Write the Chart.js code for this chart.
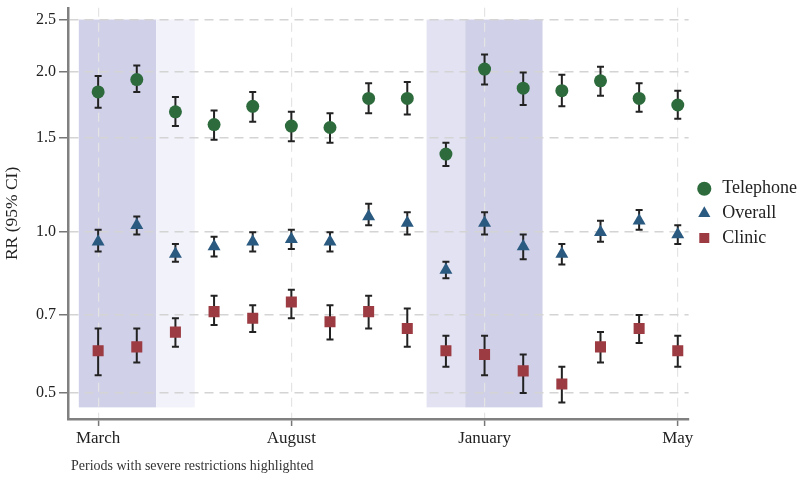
<!DOCTYPE html>
<html>
<head>
<meta charset="utf-8">
<script src="https://cdn.jsdelivr.net/npm/chart.js@4.4.1/dist/chart.umd.min.js"></script>
<style>
  html, body { margin: 0; padding: 0; background: #fff; }
  #wrap { width: 800px; height: 478px; }
</style>
</head>
<body>
<div id="wrap"><canvas id="grafico"></canvas></div>
<script>
// periods 0..15, only some are labelled on the axis
const periodos = [0, 1, 2, 3, 4, 5, 6, 7, 8, 9, 10, 11, 12, 13, 14, 15];
const tickPos = [0, 5, 10, 15];
const tickLabels = ['March', 'August', 'January', 'May'];
const yTicks = [0.5, 0.7, 1.0, 1.5, 2.0, 2.5];

const telefono = [1.83, 1.93, 1.68, 1.59, 1.72, 1.58, 1.57, 1.78, 1.78, 1.40, 2.02, 1.86, 1.84, 1.92, 1.78, 1.73];
const telefonoLo = [1.71, 1.83, 1.58, 1.49, 1.61, 1.48, 1.47, 1.67, 1.66, 1.33, 1.89, 1.73, 1.72, 1.80, 1.68, 1.63];
const telefonoHi = [1.96, 2.05, 1.79, 1.69, 1.83, 1.68, 1.67, 1.90, 1.91, 1.47, 2.15, 1.99, 1.97, 2.04, 1.90, 1.84];

const general = [0.96, 1.03, 0.91, 0.94, 0.96, 0.97, 0.96, 1.07, 1.04, 0.85, 1.04, 0.94, 0.91, 1.00, 1.05, 0.99];
const generalLo = [0.92, 0.99, 0.88, 0.90, 0.92, 0.93, 0.92, 1.03, 0.99, 0.82, 0.99, 0.89, 0.87, 0.96, 1.01, 0.95];
const generalHi = [1.01, 1.07, 0.95, 0.98, 1.00, 1.01, 1.00, 1.13, 1.09, 0.88, 1.09, 0.99, 0.95, 1.05, 1.10, 1.03];

const clinica = [0.60, 0.61, 0.65, 0.71, 0.69, 0.74, 0.68, 0.71, 0.66, 0.60, 0.59, 0.55, 0.52, 0.61, 0.66, 0.60];
const clinicaLo = [0.54, 0.57, 0.61, 0.67, 0.65, 0.69, 0.63, 0.66, 0.61, 0.56, 0.54, 0.50, 0.48, 0.57, 0.62, 0.56];
const clinicaHi = [0.66, 0.66, 0.69, 0.76, 0.73, 0.78, 0.73, 0.76, 0.72, 0.64, 0.64, 0.59, 0.56, 0.65, 0.70, 0.64];

// restriction periods (in period units) and their shade
const bandaDesde = [-0.5, 1.5, 8.5, 9.5];
const bandaHasta = [1.5, 2.5, 9.5, 11.5];
const bandaColor = ['#d0d0e8', '#f2f2fa', '#e2e2f3', '#d0d0e8'];
const bandaTop = 2.5;
const bandaBottom = 0.47;

const errores = [
  [telefonoLo, telefonoHi],
  [generalLo, generalHi],
  [clinicaLo, clinicaHi]
];

function puntos(valores) {
  return valores.map((v, i) => ({ x: periodos[i], y: v }));
}

const bandas = {
  id: 'bandas',
  beforeDraw(chart) {
    const { ctx, scales: { x, y } } = chart;
    ctx.save();
    for (let i = 0; i < bandaDesde.length; i++) {
      const x0 = x.getPixelForValue(bandaDesde[i]);
      const x1 = x.getPixelForValue(bandaHasta[i]);
      const y0 = y.getPixelForValue(bandaTop);
      const y1 = y.getPixelForValue(bandaBottom);
      ctx.fillStyle = bandaColor[i];
      ctx.fillRect(x0, y0, x1 - x0, y1 - y0);
    }
    ctx.restore();
  }
};

const barrasError = {
  id: 'barrasError',
  beforeDatasetsDraw(chart) {
    const { ctx, scales: { x, y } } = chart;
    ctx.save();
    ctx.strokeStyle = '#222222';
    ctx.lineWidth = 2;
    errores.forEach(([lo, hi]) => {
      lo.forEach((v, i) => {
        const px = x.getPixelForValue(periodos[i]);
        const yLo = y.getPixelForValue(v);
        const yHi = y.getPixelForValue(hi[i]);
        ctx.beginPath();
        ctx.moveTo(px, yLo);
        ctx.lineTo(px, yHi);
        ctx.moveTo(px - 3.5, yLo);
        ctx.lineTo(px + 3.5, yLo);
        ctx.moveTo(px - 3.5, yHi);
        ctx.lineTo(px + 3.5, yHi);
        ctx.stroke();
      });
    });
    ctx.restore();
  }
};

const nota = {
  id: 'nota',
  afterDraw(chart) {
    const ctx = chart.ctx;
    ctx.save();
    ctx.font = '14px "Liberation Serif"';
    ctx.fillStyle = '#333';
    ctx.textBaseline = 'middle';
    ctx.fillText('Periods with severe restrictions highlighted', 71, 466);
    ctx.restore();
  }
};

const familia = '"Liberation Serif", "DejaVu Serif", serif';
Chart.defaults.font.family = familia;
Chart.defaults.font.size = 16;

new Chart(document.getElementById('grafico'), {
  type: 'scatter',
  data: {
    datasets: [
      {
        label: 'Telephone',
        data: puntos(telefono),
        pointStyle: 'circle',
        pointRadius: 6.5,
        backgroundColor: '#2d6b3d',
        borderColor: '#2d6b3d',
        borderWidth: 0
      },
      {
        label: 'Overall',
        data: puntos(general),
        pointStyle: 'triangle',
        pointRadius: 7.5,
        backgroundColor: '#2b5a80',
        borderColor: '#2b5a80',
        borderWidth: 0
      },
      {
        label: 'Clinic',
        data: puntos(clinica),
        pointStyle: 'rect',
        pointRadius: 7.8,
        backgroundColor: '#9c3b42',
        borderColor: '#9c3b42',
        borderWidth: 0
      }
    ]
  },
  options: {
    responsive: true,
    maintainAspectRatio: false,
    animation: false,
    layout: { padding: { top: 3, right: -7, bottom: 0, left: 0 } },
    plugins: {
      tooltip: { enabled: false },
      legend: {
        position: 'right',
        fullSize: false,
        labels: {
          usePointStyle: true,
          boxHeight: 10,
          boxWidth: 18,
          padding: 6.7,
          color: '#222',
          font: { family: familia, size: 18 }
        }
      }
    },
    scales: {
      x: {
        type: 'linear',
        min: -0.78,
        max: 15.28,
        afterBuildTicks(s) {
          s.ticks = tickPos.map(v => ({ value: v }));
        },
        afterFit(s) {
          s.height = 59;
          s.paddingLeft = 0;
          s.paddingRight = 0;
        },
        ticks: {
          color: '#222',
          font: { family: familia, size: 17 },
          padding: 2,
          maxRotation: 0,
          callback(v) {
            const k = tickPos.indexOf(v);
            return k >= 0 ? tickLabels[k] : '';
          }
        },
        grid: {
          color: '#e4e4e4',
          lineWidth: 1.2,
          tickLength: 7,
          tickColor: '#777',
          tickBorderDash: [],
          tickWidth: 1.5
        },
        border: { display: true, color: '#808080', width: 2.5, dash: [9, 6] }
      },
      y: {
        type: 'logarithmic',
        min: 0.447,
        max: 2.63,
        afterBuildTicks(s) {
          s.ticks = yTicks.map(v => ({ value: v }));
        },
        afterFit(s) {
          s.width = 68;
          s.paddingTop = 0;
          s.paddingBottom = 0;
        },
        title: {
          display: true,
          text: 'RR (95% CI)',
          color: '#222',
          font: { family: familia, size: 17.5 },
          padding: { top: 2, bottom: 0 }
        },
        ticks: {
          color: '#222',
          font: { family: familia, size: 16 },
          padding: 3,
          callback(v) {
            return Number(v).toFixed(1);
          }
        },
        grid: {
          color: '#d4d4d4',
          lineWidth: 1.5,
          tickLength: 9,
          tickColor: '#777',
          tickBorderDash: [],
          tickWidth: 1.5
        },
        border: { display: true, color: '#808080', width: 2.5, dash: [9, 6] }
      }
    }
  },
  plugins: [bandas, barrasError, nota]
});
</script>
</body>
</html>
